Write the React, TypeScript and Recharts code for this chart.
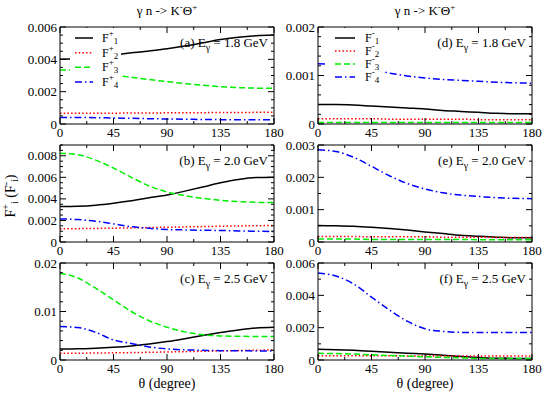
import React from 'react';
import { LineChart, Line, XAxis, YAxis, Legend } from 'recharts';

// ---------- data ----------
const angles = [0, 15, 30, 45, 60, 75, 90, 105, 120, 135, 150, 165, 180];

// (a) F+ , E = 1.8 GeV
const a1 = [0.00400, 0.00405, 0.00414, 0.00427, 0.00440, 0.00452, 0.00465, 0.00482, 0.00502, 0.00522, 0.00537, 0.00546, 0.00550];
const a2 = [0.00066, 0.00066, 0.00067, 0.00067, 0.00068, 0.00068, 0.00069, 0.00069, 0.00070, 0.00071, 0.00071, 0.00072, 0.00072];
const a3 = [0.00334, 0.00330, 0.00318, 0.00303, 0.00289, 0.00275, 0.00262, 0.00250, 0.00240, 0.00231, 0.00225, 0.00222, 0.00221];
const a4 = [0.00040, 0.00040, 0.00039, 0.00037, 0.00035, 0.00033, 0.00031, 0.00030, 0.00028, 0.00027, 0.00026, 0.00026, 0.00026];

// (b) F+ , E = 2.0 GeV
const b1 = [0.00329, 0.00332, 0.00342, 0.00360, 0.00383, 0.00410, 0.00436, 0.00472, 0.00510, 0.00549, 0.00580, 0.00598, 0.00601];
const b2 = [0.00122, 0.00124, 0.00126, 0.00128, 0.00131, 0.00134, 0.00137, 0.00140, 0.00143, 0.00146, 0.00149, 0.00151, 0.00153];
const b3 = [0.00824, 0.00810, 0.00760, 0.00686, 0.00600, 0.00520, 0.00464, 0.00430, 0.00405, 0.00387, 0.00375, 0.00368, 0.00366];
const b4 = [0.00214, 0.00208, 0.00193, 0.00168, 0.00142, 0.00127, 0.00116, 0.00112, 0.00109, 0.00107, 0.00103, 0.00100, 0.00098];

// (c) F+ , E = 2.5 GeV
const c1 = [0.00228, 0.00230, 0.00242, 0.00262, 0.00290, 0.00330, 0.00380, 0.00440, 0.00505, 0.00566, 0.00620, 0.00660, 0.00676];
const c2 = [0.00138, 0.00140, 0.00144, 0.00148, 0.00153, 0.00159, 0.00165, 0.00172, 0.00180, 0.00188, 0.00196, 0.00202, 0.00207];
const c3 = [0.01790, 0.01690, 0.01480, 0.01240, 0.01000, 0.00810, 0.00676, 0.00580, 0.00520, 0.00497, 0.00490, 0.00485, 0.00483];
const c4 = [0.00690, 0.00670, 0.00570, 0.00414, 0.00340, 0.00270, 0.00228, 0.00210, 0.00200, 0.00193, 0.00190, 0.00187, 0.00186];

// (d) F- , E = 1.8 GeV
const d1 = [0.00040, 0.00040, 0.00039, 0.00037, 0.00035, 0.00033, 0.00031, 0.00028, 0.00026, 0.00024, 0.00022, 0.00021, 0.00021];
const d2 = [0.00011, 0.00011, 0.00011, 0.00011, 0.00010, 0.00010, 0.00010, 0.00010, 0.00010, 0.00009, 0.00009, 0.00009, 0.00009];
const d3 = [0.00003, 0.00003, 0.00003, 0.00003, 0.00003, 0.00003, 0.00003, 0.00003, 0.00003, 0.00003, 0.00003, 0.00003, 0.00003];
const d4 = [0.00124, 0.00123, 0.00119, 0.00112, 0.00105, 0.00099, 0.00095, 0.00092, 0.00090, 0.00088, 0.00086, 0.00085, 0.00084];

// (e) F- , E = 2.0 GeV
const e1 = [0.00051, 0.00050, 0.00049, 0.00046, 0.00042, 0.00037, 0.00031, 0.00026, 0.00021, 0.00018, 0.00015, 0.00013, 0.00013];
const e2 = [0.00017, 0.00017, 0.00017, 0.00016, 0.00016, 0.00016, 0.00016, 0.00015, 0.00015, 0.00015, 0.00014, 0.00014, 0.00014];
const e3 = [0.00009, 0.00009, 0.00009, 0.00008, 0.00008, 0.00008, 0.00008, 0.00008, 0.00008, 0.00007, 0.00007, 0.00007, 0.00007];
const e4 = [0.00285, 0.00280, 0.00262, 0.00234, 0.00205, 0.00181, 0.00164, 0.00152, 0.00145, 0.00141, 0.00137, 0.00135, 0.00134];

// (f) F- , E = 2.5 GeV
const f1 = [0.00066, 0.00064, 0.00060, 0.00054, 0.00048, 0.00042, 0.00037, 0.00030, 0.00022, 0.00016, 0.00011, 0.00010, 0.00010];
const f2 = [0.00027, 0.00027, 0.00026, 0.00026, 0.00026, 0.00025, 0.00025, 0.00025, 0.00024, 0.00024, 0.00024, 0.00024, 0.00024];
const f3 = [0.00041, 0.00040, 0.00037, 0.00032, 0.00028, 0.00024, 0.00020, 0.00016, 0.00013, 0.00010, 0.00010, 0.00010, 0.00010];
const f4 = [0.00538, 0.00520, 0.00470, 0.00389, 0.00310, 0.00240, 0.00193, 0.00177, 0.00171, 0.00170, 0.00170, 0.00170, 0.00170];

const xMajor = [0, 45, 90, 135, 180];
const xMinor = [22.5, 67.5, 112.5, 157.5];
const panelLabels = ['(a)', '(b)', '(c)', '(d)', '(e)', '(f)'];
const energies = ['1.8', '2.0', '2.5', '1.8', '2.0', '2.5'];
const yMaxes = [0.006, 0.009, 0.02, 0.002, 0.003, 0.006];
const yMajorSteps = [0.002, 0.002, 0.01, 0.001, 0.001, 0.002];
const yMinorSteps = [0.0005, 0.0005, 0.002, 0.0002, 0.0005, 0.001];
const titleText = ['γ n -> K', '-', 'Θ', '+'];
const xLabel = 'θ (degree)';

// ---------- layout / style ----------
const FONT = 'Liberation Serif';
const PW = 214;
const PH = 97;
const LW = 46;
const RW = 14;
const TH = 12;
const BH = 22;
const colX = [60, 318];
const rowY = [27, 145, 263];

const seriesStyle = [
  { key: 'f1', color: '#000000', dash: undefined as string | undefined },
  { key: 'f2', color: '#ff0000', dash: '1.5 2.2' },
  { key: 'f3', color: '#00ee00', dash: '6 3' },
  { key: 'f4', color: '#0000ff', dash: '7 3 1.5 3' },
];

const round = (v: number) => Number(v.toFixed(6));

function makeTicks(max: number, step: number) {
  const out: number[] = [];
  const n = Math.round(max / step);
  for (let i = 0; i <= n; i++) out.push(round(i * step));
  return out;
}

const isIn = (v: number, arr: number[]) => arr.some((m) => Math.abs(m - v) < 1e-9);

function BottomTick(props: any) {
  const { x, y, payload } = props;
  const v = payload.value;
  const major = isIn(v, xMajor);
  return (
    <g>
      <line x1={x} y1={y} x2={x} y2={y - (major ? 6 : 3)} stroke="#000" strokeWidth={1} />
      {major && (
        <text x={x} y={y + 13} textAnchor="middle" fontFamily={FONT} fontSize={13} fill="#000">
          {v}
        </text>
      )}
    </g>
  );
}

function TopTick(props: any) {
  const { x, y, payload } = props;
  const major = isIn(payload.value, xMajor);
  return <line x1={x} y1={y} x2={x} y2={y + (major ? 6 : 3)} stroke="#000" strokeWidth={1} />;
}

function makeLeftTick(majors: number[]) {
  return (props: any) => {
    const { x, y, payload } = props;
    const v = payload.value;
    const major = isIn(v, majors);
    return (
      <g>
        <line x1={x} y1={y} x2={x + (major ? 6 : 3)} y2={y} stroke="#000" strokeWidth={1} />
        {major && (
          <text x={x - 3} y={y + 4.5} textAnchor="end" fontFamily={FONT} fontSize={13} fill="#000">
            {String(round(v))}
          </text>
        )}
      </g>
    );
  };
}

function makeRightTick(majors: number[]) {
  return (props: any) => {
    const { x, y, payload } = props;
    const major = isIn(payload.value, majors);
    return <line x1={x} y1={y} x2={x - (major ? 6 : 3)} y2={y} stroke="#000" strokeWidth={1} />;
  };
}

type LegendCfg = {
  left: number;
  top: number;
  w: number;
  h: number;
  rows: number[];
  lx1: number;
  lx2: number;
  tx: number;
  sign: string;
};

function legendContent(cfg: LegendCfg) {
  return () => (
    <svg width={cfg.w} height={cfg.h} style={{ display: 'block' }}>
      <rect x={0} y={0} width={cfg.w} height={cfg.h} fill="#fff" />
      {seriesStyle.map((s, i) => (
        <g key={s.key}>
          <line
            x1={cfg.lx1}
            x2={cfg.lx2}
            y1={cfg.rows[i]}
            y2={cfg.rows[i]}
            stroke={s.color}
            strokeWidth={1.5}
            strokeDasharray={s.dash}
          />
          <text x={cfg.tx} y={cfg.rows[i] + 4} fontFamily={FONT} fontSize={12} fill="#000">
            F
            <tspan dy={-6} fontSize={9}>
              {cfg.sign}
            </tspan>
            <tspan dy={8} fontSize={9}>
              {i + 1}
            </tspan>
          </text>
        </g>
      ))}
    </svg>
  );
}

type PanelProps = {
  idx: number;
  px: number;
  py: number;
  series: number[][];
  legend?: LegendCfg;
};

function Panel({ idx, px, py, series, legend }: PanelProps) {
  const data = angles.map((t, i) => ({
    theta: t,
    f1: series[0][i],
    f2: series[1][i],
    f3: series[2][i],
    f4: series[3][i],
  }));
  const yMax = yMaxes[idx];
  const majors = makeTicks(yMax, yMajorSteps[idx]);
  const all = makeTicks(yMax, yMinorSteps[idx]);
  const xAll = [...xMajor, ...xMinor].sort((p, q) => p - q);
  return (
    <div style={{ position: 'absolute', left: px - LW, top: py - TH }}>
      <LineChart
        width={LW + PW + RW}
        height={TH + PH + BH}
        data={data}
        margin={{ top: 0, right: 0, bottom: 0, left: 0 }}
      >
        <XAxis
          xAxisId="b"
          dataKey="theta"
          type="number"
          domain={[0, 180]}
          allowDataOverflow
          ticks={xAll}
          interval={0}
          tickSize={0}
          tickMargin={0}
          height={BH}
          axisLine={{ stroke: '#000', strokeWidth: 1 }}
          tickLine={false}
          tick={(p: any) => <BottomTick {...p} />}
        />
        <XAxis
          xAxisId="t"
          orientation="top"
          dataKey="theta"
          type="number"
          domain={[0, 180]}
          allowDataOverflow
          ticks={xAll}
          interval={0}
          tickSize={0}
          tickMargin={0}
          height={TH}
          axisLine={{ stroke: '#000', strokeWidth: 1 }}
          tickLine={false}
          tick={(p: any) => <TopTick {...p} />}
        />
        <YAxis
          yAxisId="l"
          type="number"
          domain={[0, yMax]}
          allowDataOverflow
          ticks={all}
          interval={0}
          tickSize={0}
          tickMargin={0}
          width={LW}
          axisLine={{ stroke: '#000', strokeWidth: 1 }}
          tickLine={false}
          tick={makeLeftTick(majors)}
        />
        <YAxis
          yAxisId="r"
          orientation="right"
          type="number"
          domain={[0, yMax]}
          allowDataOverflow
          ticks={all}
          interval={0}
          tickSize={0}
          tickMargin={0}
          width={RW}
          axisLine={{ stroke: '#000', strokeWidth: 1 }}
          tickLine={false}
          tick={makeRightTick(majors)}
        />
        {seriesStyle.map((s) => (
          <Line
            key={s.key}
            xAxisId="b"
            yAxisId="l"
            type="monotone"
            dataKey={s.key}
            stroke={s.color}
            strokeWidth={1.5}
            strokeDasharray={s.dash}
            dot={false}
            activeDot={false}
            isAnimationActive={false}
          />
        ))}
        {legend && (
          <Legend
            layout="vertical"
            align="center"
            verticalAlign="middle"
            content={legendContent(legend)}
            wrapperStyle={{
              left: LW + legend.left,
              top: TH + legend.top,
              width: legend.w,
              height: legend.h,
              margin: 0,
              padding: 0,
            }}
          />
        )}
      </LineChart>
    </div>
  );
}

const legendA: LegendCfg = {
  left: 10,
  top: 1,
  w: 51,
  h: 64,
  rows: [10, 24.7, 39.3, 54],
  lx1: 5,
  lx2: 23,
  tx: 32,
  sign: '+',
};

const legendD: LegendCfg = {
  left: 10,
  top: 1,
  w: 55,
  h: 58,
  rows: [10, 23, 36, 49],
  lx1: 7,
  lx2: 27,
  tx: 37,
  sign: '-',
};

const panelSeries = [
  [a1, a2, a3, a4],
  [b1, b2, b3, b4],
  [c1, c2, c3, c4],
  [d1, d2, d3, d4],
  [e1, e2, e3, e4],
  [f1, f2, f3, f4],
];

export default function App() {
  return (
    <div
      style={{
        position: 'absolute',
        left: 0,
        top: 0,
        width: 545,
        height: 393,
        background: '#fff',
        overflow: 'hidden',
        fontFamily: FONT,
      }}
    >
      {panelSeries.map((s, i) => {
        const col = i < 3 ? 0 : 1;
        const row = i % 3;
        return (
          <Panel
            key={i}
            idx={i}
            px={colX[col]}
            py={rowY[row]}
            series={s}
            legend={i === 0 ? legendA : i === 3 ? legendD : undefined}
          />
        );
      })}
      <svg
        width={545}
        height={393}
        style={{ position: 'absolute', left: 0, top: 0, pointerEvents: 'none' }}
      >
        {colX.map((cx, c) => (
          <g key={'col' + c}>
            <text x={cx + PW / 2} y={15} textAnchor="middle" fontFamily={FONT} fontSize={13} fill="#000">
              {titleText[0]}
              <tspan dy={-5} fontSize={9}>
                {titleText[1]}
              </tspan>
              <tspan dy={5}>{titleText[2]}</tspan>
              <tspan dy={-5} fontSize={9}>
                {titleText[3]}
              </tspan>
            </text>
            <text x={cx + PW / 2} y={388} textAnchor="middle" fontFamily={FONT} fontSize={14} fill="#000">
              {xLabel}
            </text>
          </g>
        ))}
        {panelLabels.map((lab, i) => {
          const col = i < 3 ? 0 : 1;
          const row = i % 3;
          const x = colX[col] + PW - 6;
          const y = rowY[row] + 20;
          return (
            <text key={lab} x={x} y={y} textAnchor="end" fontFamily={FONT} fontSize={13} fill="#000">
              {lab} E
              <tspan dy={4} fontSize={10}>
                γ
              </tspan>
              <tspan dy={-4}>{' = ' + energies[i] + ' GeV'}</tspan>
            </text>
          );
        })}
        <text
          transform="translate(15,196) rotate(-90)"
          textAnchor="middle"
          fontFamily={FONT}
          fontSize={14}
          fill="#000"
        >
          F
          <tspan dy={-6} fontSize={10}>
            +
          </tspan>
          <tspan dy={9} fontSize={10}>
            i
          </tspan>
          <tspan dy={-3}> (F</tspan>
          <tspan dy={-6} fontSize={10}>
            -
          </tspan>
          <tspan dy={9} fontSize={10}>
            i
          </tspan>
          <tspan dy={-3}>)</tspan>
        </text>
      </svg>
    </div>
  );
}
